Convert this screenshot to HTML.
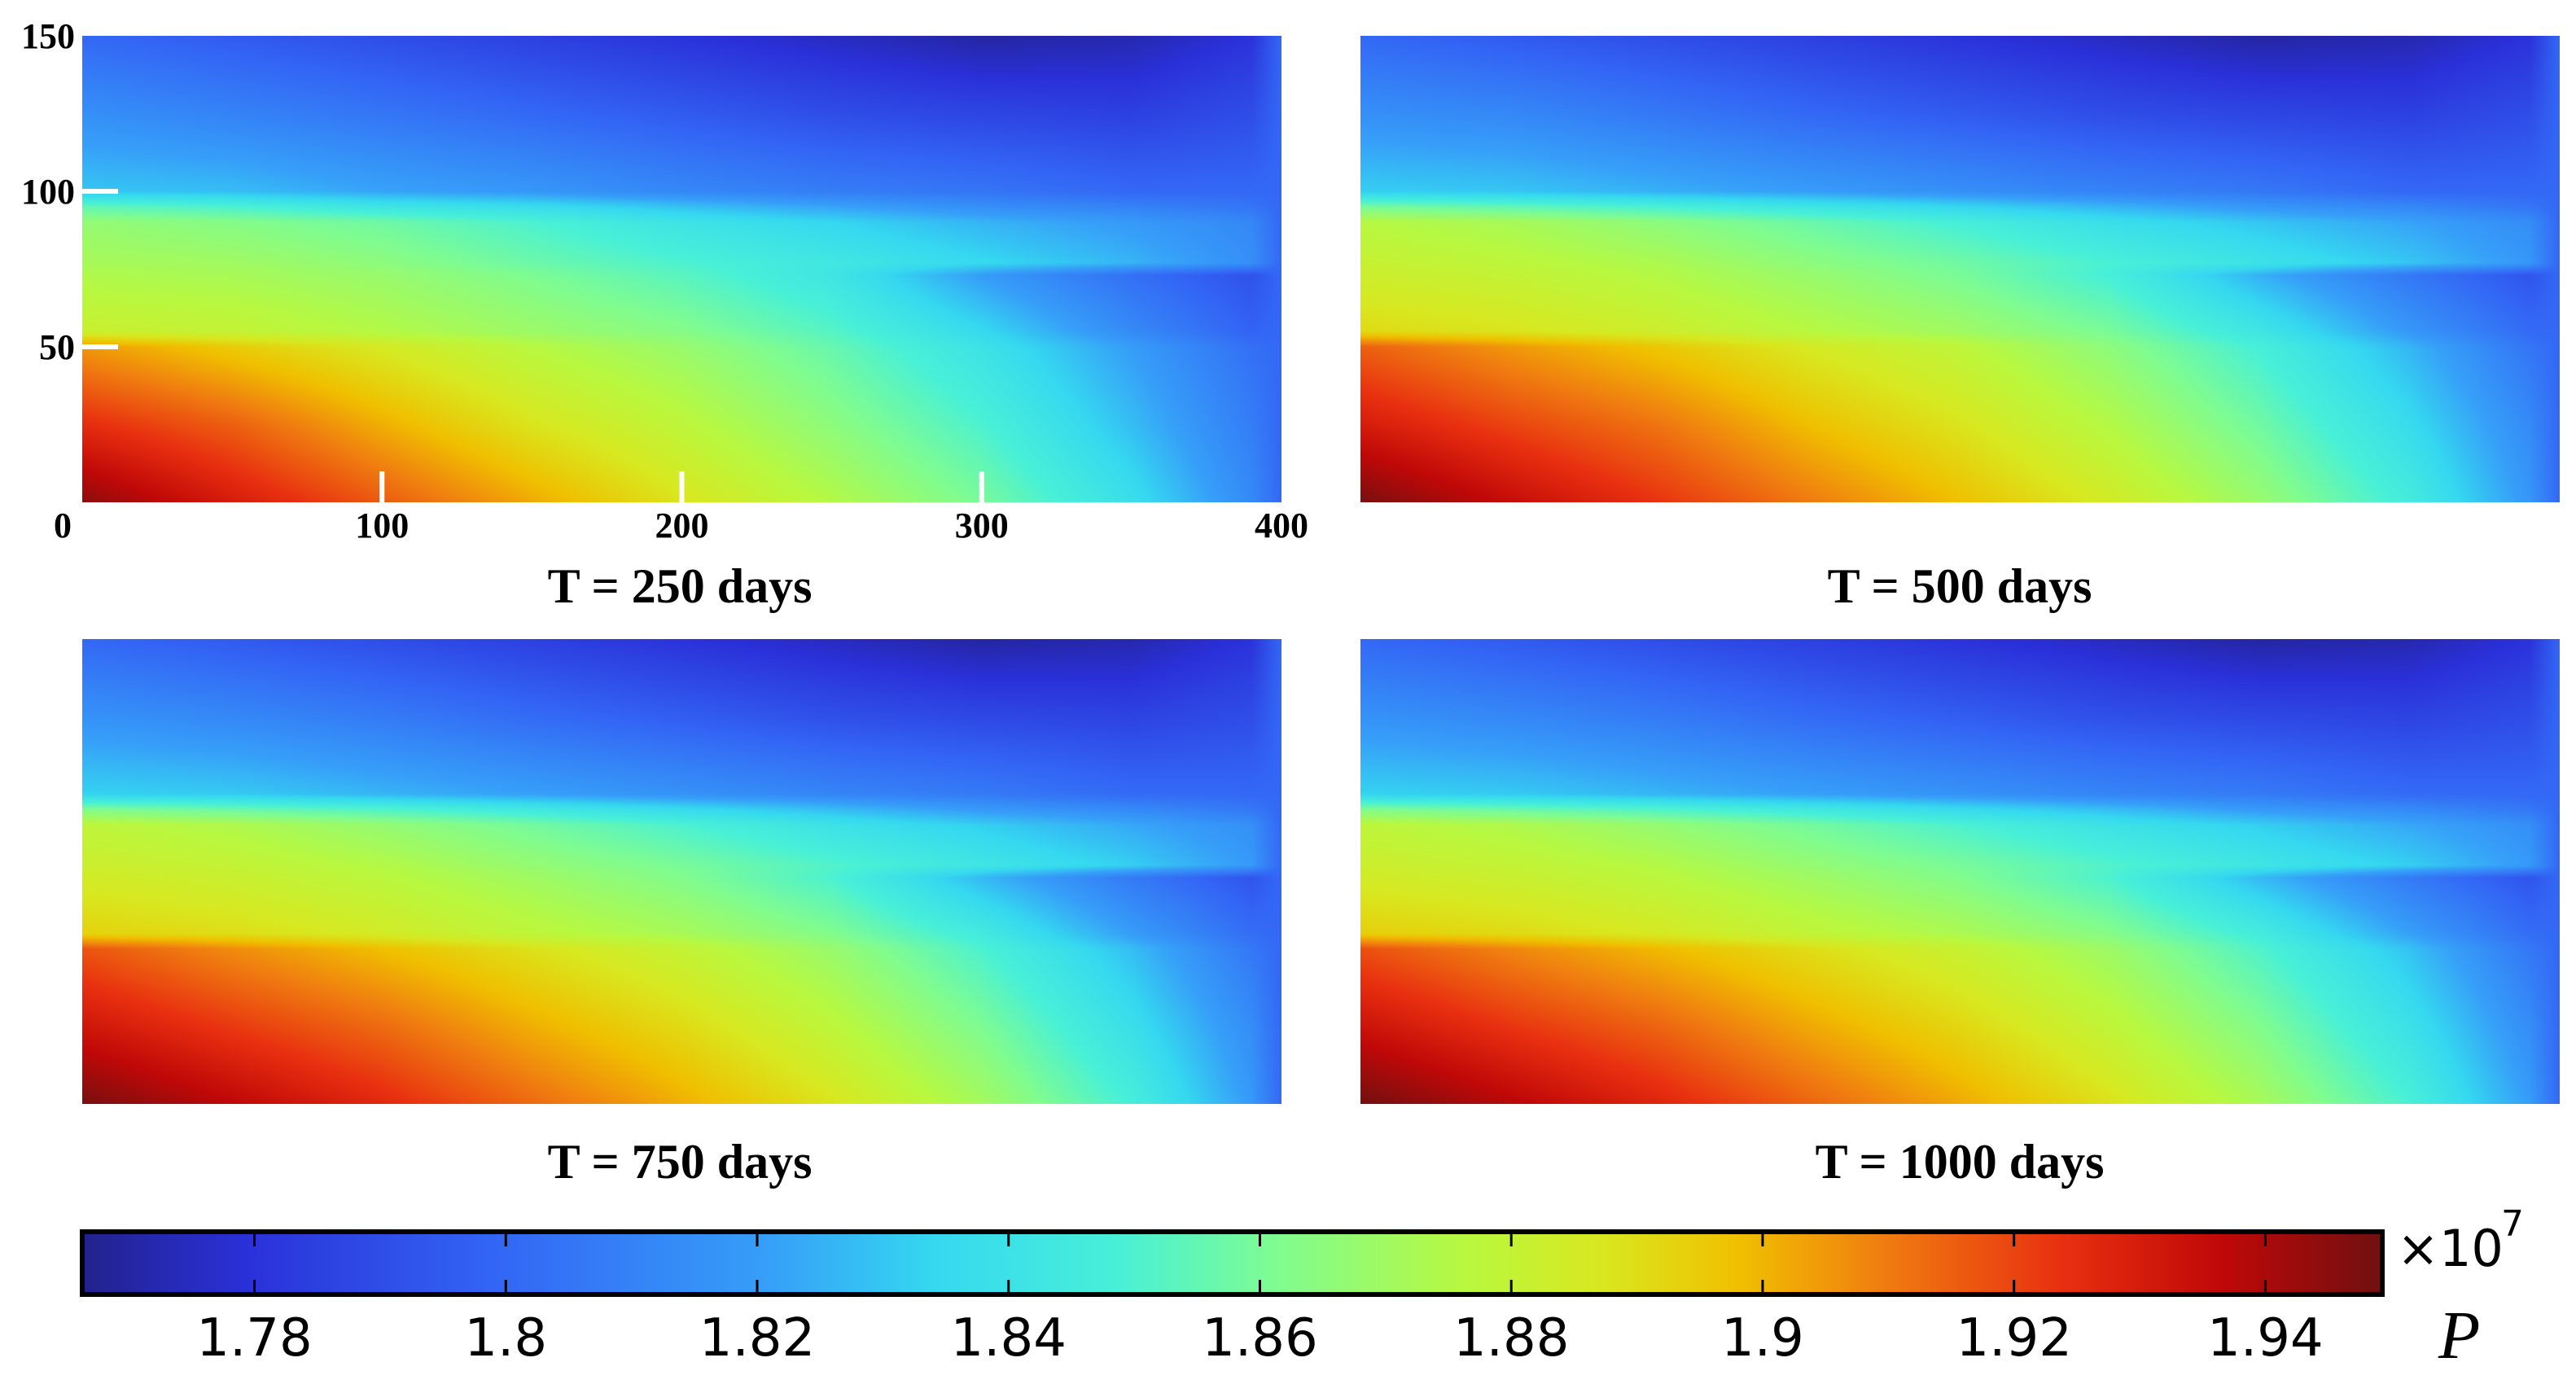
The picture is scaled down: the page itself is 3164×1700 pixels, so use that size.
<!DOCTYPE html>
<html><head><meta charset="utf-8">
<style>
html,body{margin:0;padding:0;background:#fff;}
#root{position:relative;width:3164px;height:1700px;overflow:hidden;background:#fff;}
canvas{position:absolute;}
svg{position:absolute;left:0;top:0;}
.ser{font-family:"Liberation Serif",serif;font-weight:bold;fill:#000;}
.sans{font-family:"DejaVu Sans","Liberation Sans",sans-serif;fill:#000;}
</style></head>
<body>
<div id="root">
<canvas id="c0" width="1473" height="573" style="left:101px;top:44px"></canvas>
<canvas id="c1" width="1473" height="573" style="left:1671px;top:44px"></canvas>
<canvas id="c2" width="1473" height="571" style="left:101px;top:785px"></canvas>
<canvas id="c3" width="1473" height="571" style="left:1671px;top:785px"></canvas>
<canvas id="cb" width="2825" height="77" style="left:101px;top:1513px"></canvas>
<svg id="ov" width="3164" height="1700"></svg>
</div>
<script>
// ---- data ----
const xCoords = [0,50,100,150,200,250,300,350,390,400];
const yCoords = [150,125,100,95,90,77,73,55,50,25,0];
const gridT250 = [
[1.800,1.795,1.790,1.785,1.780,1.775,1.770,1.772,1.780,1.800],
[1.815,1.810,1.805,1.800,1.795,1.790,1.787,1.785,1.790,1.800],
[1.830,1.828,1.822,1.818,1.812,1.808,1.805,1.800,1.800,1.800],
[1.855,1.850,1.842,1.837,1.829,1.822,1.815,1.810,1.805,1.800],
[1.867,1.863,1.858,1.850,1.841,1.834,1.826,1.819,1.812,1.800],
[1.872,1.870,1.865,1.857,1.850,1.843,1.835,1.826,1.815,1.800],
[1.874,1.872,1.868,1.861,1.853,1.842,1.820,1.803,1.792,1.800],
[1.882,1.880,1.875,1.869,1.863,1.852,1.835,1.813,1.798,1.800],
[1.905,1.895,1.886,1.876,1.868,1.856,1.840,1.820,1.803,1.800],
[1.925,1.915,1.901,1.888,1.878,1.865,1.850,1.828,1.808,1.800],
[1.945,1.930,1.916,1.902,1.888,1.875,1.860,1.838,1.813,1.800]];
const gridT500 = [
[1.800,1.795,1.790,1.785,1.780,1.775,1.770,1.772,1.780,1.800],
[1.815,1.812,1.806,1.800,1.795,1.790,1.787,1.785,1.790,1.800],
[1.832,1.830,1.825,1.820,1.815,1.810,1.806,1.800,1.800,1.800],
[1.860,1.855,1.849,1.842,1.834,1.826,1.818,1.812,1.805,1.800],
[1.876,1.872,1.865,1.857,1.848,1.838,1.830,1.822,1.814,1.800],
[1.881,1.878,1.873,1.865,1.858,1.849,1.840,1.830,1.818,1.800],
[1.883,1.880,1.875,1.868,1.860,1.848,1.825,1.806,1.793,1.800],
[1.891,1.888,1.883,1.876,1.870,1.860,1.842,1.818,1.801,1.800],
[1.915,1.905,1.896,1.886,1.878,1.865,1.848,1.826,1.805,1.800],
[1.930,1.920,1.911,1.898,1.888,1.875,1.858,1.836,1.813,1.800],
[1.948,1.935,1.923,1.910,1.898,1.885,1.868,1.846,1.818,1.800]];
const gridT750 = [
[1.800,1.795,1.790,1.785,1.780,1.775,1.770,1.772,1.780,1.800],
[1.816,1.812,1.807,1.801,1.796,1.791,1.788,1.786,1.790,1.800],
[1.833,1.831,1.826,1.821,1.816,1.811,1.807,1.801,1.800,1.800],
[1.862,1.857,1.851,1.844,1.836,1.828,1.819,1.813,1.806,1.800],
[1.878,1.874,1.867,1.859,1.850,1.840,1.832,1.823,1.815,1.800],
[1.883,1.880,1.875,1.867,1.860,1.851,1.842,1.832,1.819,1.800],
[1.885,1.882,1.877,1.870,1.862,1.850,1.827,1.807,1.793,1.800],
[1.893,1.890,1.885,1.878,1.872,1.862,1.845,1.820,1.802,1.800],
[1.917,1.907,1.898,1.889,1.880,1.868,1.850,1.828,1.806,1.800],
[1.932,1.922,1.913,1.901,1.891,1.878,1.861,1.838,1.814,1.800],
[1.948,1.937,1.926,1.913,1.901,1.888,1.871,1.848,1.819,1.800]];
const gridT1000 = [
[1.800,1.795,1.790,1.785,1.780,1.775,1.770,1.772,1.780,1.800],
[1.816,1.812,1.807,1.801,1.796,1.791,1.788,1.786,1.790,1.800],
[1.833,1.831,1.826,1.821,1.816,1.811,1.807,1.801,1.800,1.800],
[1.862,1.857,1.851,1.844,1.836,1.828,1.819,1.813,1.806,1.800],
[1.878,1.874,1.867,1.859,1.850,1.840,1.832,1.823,1.815,1.800],
[1.883,1.880,1.875,1.867,1.860,1.851,1.842,1.832,1.819,1.800],
[1.885,1.882,1.877,1.870,1.862,1.850,1.827,1.807,1.793,1.800],
[1.894,1.891,1.886,1.879,1.873,1.863,1.846,1.821,1.802,1.800],
[1.918,1.908,1.899,1.890,1.881,1.869,1.851,1.829,1.806,1.800],
[1.933,1.923,1.914,1.902,1.892,1.879,1.862,1.839,1.814,1.800],
[1.949,1.938,1.927,1.914,1.902,1.889,1.872,1.849,1.820,1.800]];
const panelTitles = ["T = 250 days","T = 500 days","T = 750 days","T = 1000 days"];
const xTickLabels = [0,100,200,300,400];
const yTickLabels = [50,100,150];
const cbTicks = [1.78,1.80,1.82,1.84,1.86,1.88,1.90,1.92,1.94];
const cbTickLabels = ["1.78","1.8","1.82","1.84","1.86","1.88","1.9","1.92","1.94"];
const vMin = 1.7663, vMax = 1.9493;

// ---- colormap ----
const cmapStops = [[0,[0x22,0x22,0x8c]],[0.07,[0x2a,0x30,0xd8]],[0.18,[0x33,0x66,0xf5]],[0.3,[0x36,0xa0,0xf8]],
[0.37,[0x35,0xd8,0xf0]],[0.45,[0x48,0xf0,0xd8]],[0.52,[0x80,0xfc,0x90]],[0.6,[0xb8,0xf8,0x40]],[0.66,[0xd8,0xe8,0x20]],
[0.72,[0xf0,0xc0,0x00]],[0.78,[0xf0,0x80,0x10]],[0.86,[0xe8,0x30,0x10]],[0.93,[0xc0,0x08,0x08]],[1,[0x70,0x10,0x10]]];
function cmap(t){t=Math.max(0,Math.min(1,t));
 for(let i=1;i<cmapStops.length;i++){if(t<=cmapStops[i][0]){const a=cmapStops[i-1],b=cmapStops[i];const f=(t-a[0])/(b[0]-a[0]);
  return [0,1,2].map(k=>a[1][k]+(b[1][k]-a[1][k])*f);}}
 return cmapStops[cmapStops.length-1][1];}
function idx(arr,v,desc){
 for(let i=0;i<arr.length-1;i++){const a=arr[i],b=arr[i+1];if(desc? (v<=a&&v>=b):(v>=a&&v<=b)) return [i,(v-a)/(b-a)];}
 return [arr.length-2,1];}
function drawHeat(id,grid){
 const c=document.getElementById(id),ctx=c.getContext('2d'),W=c.width,H=c.height;
 const img=ctx.createImageData(W,H);
 const xs=[];for(let px=0;px<W;px++)xs.push(idx(xCoords,(px+0.5)/W*400,false));
 for(let py=0;py<H;py++){const yv=150-(py+0.5)/H*150;const [j,fy]=idx(yCoords,yv,true);
  for(let px=0;px<W;px++){const [i,fx]=xs[px];
   const v=(grid[j][i]*(1-fx)+grid[j][i+1]*fx)*(1-fy)+(grid[j+1][i]*(1-fx)+grid[j+1][i+1]*fx)*fy;
   const col=cmap((v-vMin)/(vMax-vMin));const o=(py*W+px)*4;
   img.data[o]=col[0];img.data[o+1]=col[1];img.data[o+2]=col[2];img.data[o+3]=255;}}
 ctx.putImageData(img,0,0);}
drawHeat('c0',gridT250);drawHeat('c1',gridT500);drawHeat('c2',gridT750);drawHeat('c3',gridT1000);

(function(){const c=document.getElementById('cb'),ctx=c.getContext('2d');
 for(let px=0;px<c.width;px++){const col=cmap(px/c.width);ctx.fillStyle='rgb('+col.map(Math.round).join(',')+')';ctx.fillRect(px,0,1,c.height);}})();

const NS='http://www.w3.org/2000/svg',ov=document.getElementById('ov');
function el(tag,attrs,txt){const e=document.createElementNS(NS,tag);for(const k in attrs)e.setAttribute(k,attrs[k]);if(txt!==undefined)e.textContent=txt;ov.appendChild(e);return e;}
const px0=101,pw=1473,py0=44,ph=573;
const xs=v=>px0+v/400*pw, ys=v=>py0+ph-v/150*ph;
xTickLabels.forEach(v=>{
 if(v>0&&v<400){const t=el('line',{x1:xs(v),x2:xs(v),y1:py0+ph,y2:py0+ph-38,stroke:'#fff','stroke-width':6});
  }
 const l=el('text',{x:v===0?77:xs(v),y:660,'text-anchor':'middle','font-size':44,class:'ser'},String(v));
 });
yTickLabels.forEach(v=>{
 if(v<150){const t=el('line',{x1:px0,x2:px0+44,y1:ys(v),y2:ys(v),stroke:'#fff','stroke-width':6});
  }
 const l=el('text',{x:92,y:ys(v)+15,'text-anchor':'end','font-size':44,class:'ser'},String(v));
 });
const titlePos=[[835,740],[2407,740],[835,1447],[2407,1447]];
panelTitles.forEach((s,i)=>{const t=el('text',{x:titlePos[i][0],y:titlePos[i][1],'text-anchor':'middle','font-size':60,class:'ser'},s);
 });
const cbx0=101,cbw=2825,cby0=1513,cbh=77;
const cbX=v=>cbx0+(v-vMin)/(vMax-vMin)*cbw;
cbTicks.forEach((v,i)=>{
 const a=el('line',{x1:cbX(v),x2:cbX(v),y1:cby0,y2:cby0+18,stroke:'#000','stroke-width':3});
 
 const b=el('line',{x1:cbX(v),x2:cbX(v),y1:cby0+cbh-18,y2:cby0+cbh,stroke:'#000','stroke-width':3});
 
 const l=el('text',{x:cbX(v),y:1665,'text-anchor':'middle','font-size':64,class:'sans'},cbTickLabels[i]);
 });
const fr=el('rect',{x:cbx0,y:cby0,width:cbw,height:cbh,fill:'none',stroke:'#000','stroke-width':6});

const ex=el('text',{x:2944,y:1555,'font-size':62,class:'sans'},'×10');

const ex2=el('text',{x:3072,y:1518,'font-size':44,class:'sans'},'7');

const pl=el('text',{x:2995,y:1668,'font-size':84,style:'font-family:"Liberation Serif",serif;font-weight:normal;font-style:italic;fill:#000'},'P');

</script>
</body></html>
